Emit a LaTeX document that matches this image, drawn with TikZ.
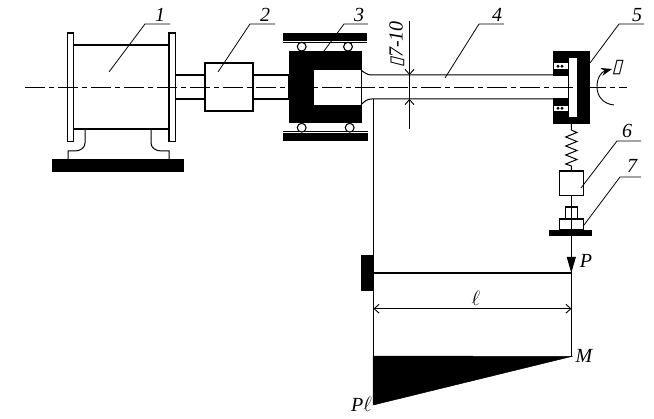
\documentclass[tikz,border=0pt]{standalone}
\usepackage{fontspec}
\setmainfont{Liberation Serif}
\newfontfamily\boxfont[FakeSlant=0.25]{DejaVu Sans}
\usetikzlibrary{arrows.meta}
\tikzset{
  part/.style={draw=black,line width=1.1pt,fill=white},
  solid black/.style={fill=black,draw=black,line width=.5pt},
  thin line/.style={draw=black,line width=1pt},
  leader/.style={draw=black,line width=.8pt},
  centerline/.style={draw=black,line width=.9pt,dash pattern=on 20pt off 4pt on 5pt off 4pt},
  tag/.style={font=\fontsize{20}{20}\selectfont\itshape,inner sep=0pt},
  dimarrow/.style={draw=black,line width=.9pt,{Straight Barb[length=5pt,width=9pt]}-{Straight Barb[length=5pt,width=9pt]}}
}
\begin{document}
\begin{tikzpicture}[x=1pt,y=-1pt]
\useasboundingbox (0,0) rectangle (654,419);
% motor
\draw[part] (73.5,45) rectangle (169,129);
\draw[part] (67.5,33) rectangle (73.5,141.5);
\draw[part] (169,33) rectangle (175.5,141.5);
\draw[thin line] (85,129) -- (85,143) .. controls (85,148) and (80,151) .. (75,151) -- (68,151) -- (68,159);
\draw[thin line] (151,129) -- (151,143) .. controls (151,148) and (156,151) .. (161,151) -- (169,151) -- (169,159);
\fill[black] (52,159) rectangle (184,172);
% shafts and coupling
\draw[part] (175.5,75) rectangle (205,99);
\draw[part] (253,75) rectangle (289,99);
\draw[part] (205,63) rectangle (253,111);
% unit 3
\fill[black] (283,33) rectangle (367,41);
\fill[black] (283,132.7) rectangle (368,140.7);
\draw[thin line] (283,42.7) -- (367,42.7);
\draw[thin line] (283,131.3) -- (368,131.3);
\draw[part] (301.7,46.7) circle (4.4);
\draw[part] (348,46.7) circle (4.4);
\draw[part] (301.7,127.7) circle (4.4);
\draw[part] (349.7,127.7) circle (4.4);
\fill[black] (289,50.7) rectangle (362,123.5);
\fill[white] (314,70) rectangle (361,104.7);
% long shaft
\draw[thin line] (361,70) .. controls (365,73) and (367,75) .. (372,75) -- (553,75);
\draw[thin line] (361,104.7) .. controls (365,101) and (367,99) .. (372,99) -- (553,99);
% unit 5
\fill[black] (552.7,50.7) rectangle (590,124);
\fill[white] (569,58) rectangle (576.7,116.7);
\fill[white] (552.7,75.7) rectangle (568.7,98.3);
\draw[thin line] (552.7,75) -- (568,75) -- (568,99) -- (552.7,99);
\fill[white] (554,63.5) rectangle (568,69);
\fill[white] (554,105.7) rectangle (568,111);
\foreach \yy in {66.2,108.3} {
  \fill[black] (558,\yy) circle (1.6);
  \fill[black] (562,\yy) circle (1.6);
}
% centre line
\draw[centerline] (25,87.3) -- (627,87.3);
% rotation arrow
\draw[line width=.9pt,-{Stealth[length=11pt,width=8pt]}] (614,105) .. controls (603,104) and (597,96) .. (597,87) .. controls (597,78) and (601,72) .. (612,69);
\node[tag] (omega) at (617,68) {\boxfont\fontsize{19}{19}\selectfont\char"25AF};
% spring, box 6, box 7
\draw[line width=1pt] (571.3,124) -- (571.3,130) -- (577,132.5) -- (565.7,137) -- (577,141.5) -- (565.7,146) -- (577,150.5) -- (565.7,155) -- (577,159.5) -- (565.7,164) -- (571.3,166) -- (571.3,171);
\draw[part] (559.3,171) rectangle (583.3,195.7);
\draw[part] (565.3,207) rectangle (577.7,219);
\draw[part] (559.3,219) rectangle (583.3,230);
\fill[black] (549,230) rectangle (592,236);
\draw[thin line] (571.5,195.7) -- (571.5,356);
\fill[black] (566.7,257) -- (575.9,257) -- (571.3,273) -- cycle;
% beam and diagram
\draw[line width=1.1pt] (373.5,273) -- (571.5,273);
\fill[black] (361.3,254.7) rectangle (374,290.7);
\draw[thin line] (373.5,99) -- (373.5,356);
\draw[dimarrow] (373.5,308.7) -- (571.5,308.7);
\draw[solid black] (373.2,356) -- (571.5,356.5) -- (373.2,405) -- cycle;
% diameter dimension
\draw[thin line] (409.5,21) -- (409.5,129);
\draw[line width=.9pt,-{Straight Barb[length=5pt,width=9pt]}] (409.5,62) -- (409.5,75);
\draw[line width=.9pt,-{Straight Barb[length=5pt,width=9pt]}] (409.5,112) -- (409.5,99);
\node[tag,rotate=90] (dia) at (397,44.5) {\boxfont\fontsize{18}{18}\selectfont\char"25AF\rmfamily\fontsize{20}{20}\selectfont\itshape 7-10};
% leaders
\draw[leader] (109,72) -- (145,24) -- (170,24);
\draw[leader] (218,72) -- (250,24) -- (275,24);
\draw[leader] (324,51) -- (344,24) -- (368,24);
\draw[leader] (445,78) -- (479,24) -- (504,24);
\draw[leader] (590,63) -- (619,24) -- (644,24);
\draw[leader] (581,188) -- (617,141) -- (641,141);
\draw[leader] (584,225) -- (620,177) -- (641,177);
% labels
\node[tag] (n1) at (160,15) {1};
\node[tag] (n2) at (265,15) {2};
\node[tag] (n3) at (359,15) {3};
\node[tag] (n4) at (497,15) {4};
\node[tag] (n5) at (637,15) {5};
\node[tag] (n6) at (627,131) {6};
\node[tag] (n7) at (632,166) {7};
\node[tag] (p) at (586,261) {P};
\node[tag] (m) at (584,356) {M};
\node[tag] (l) at (476,298) {$\ell$};
\node[tag,anchor=east] (pl) at (372,404) {P$\ell$};
\end{tikzpicture}
\end{document}
